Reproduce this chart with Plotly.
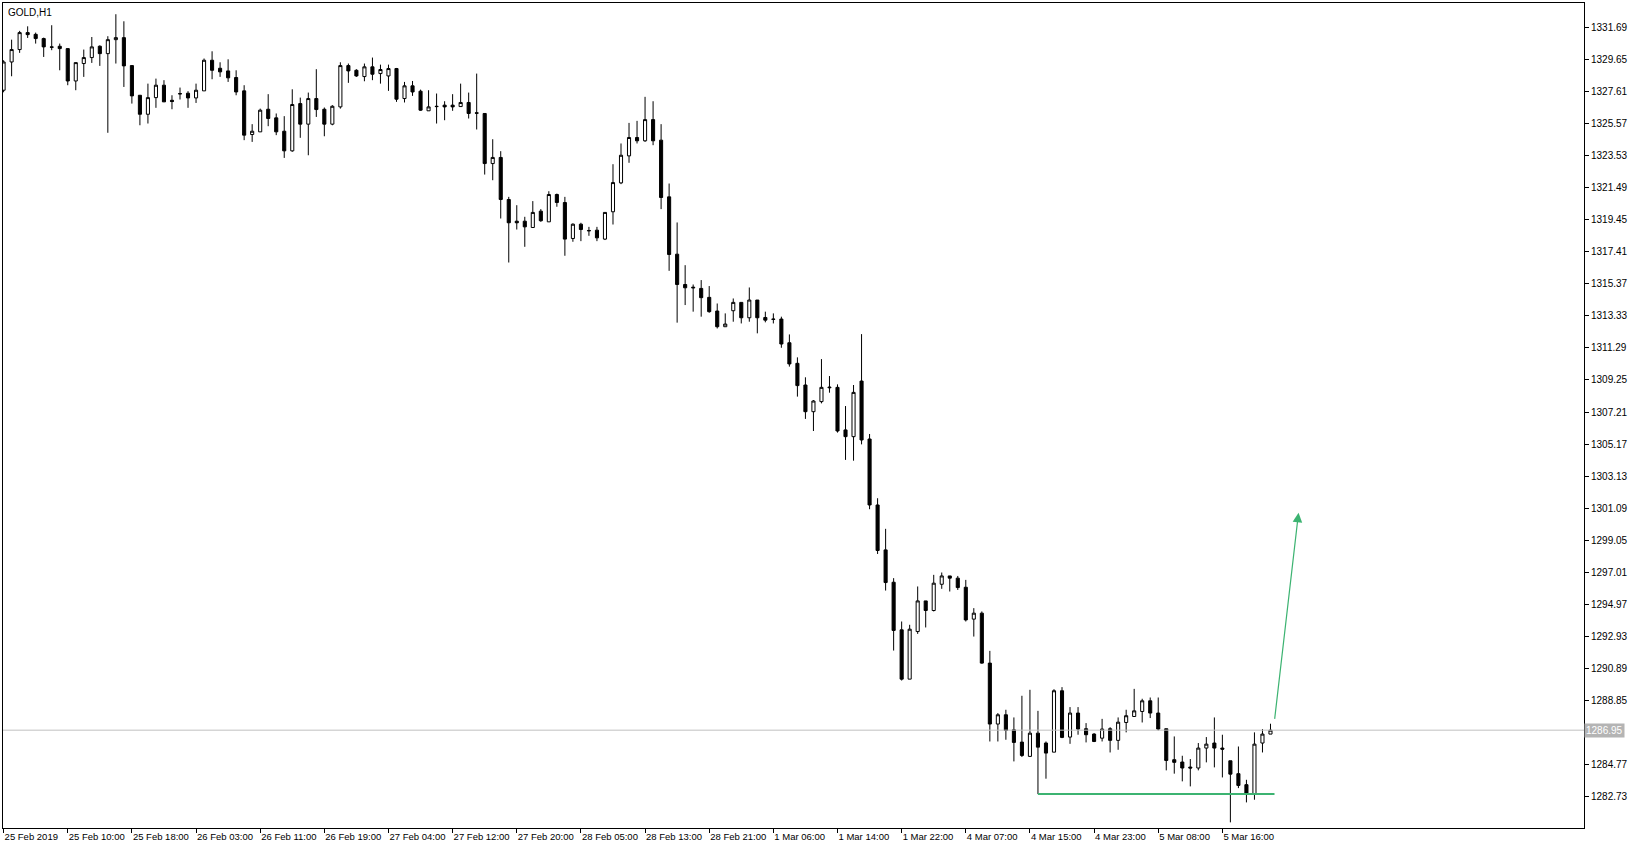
import plotly.graph_objects as go

# GOLD H1 candles (bar index 0 = 25 Feb 2019 01:00)
open_ = [
    1327.70, 1329.50, 1330.29, 1331.37, 1331.26, 1330.99, 1330.46, 1330.50, 1330.35, 1328.29,
    1329.40, 1329.78, 1330.50, 1330.03, 1330.92, 1331.05, 1329.27, 1327.38, 1326.17, 1327.23,
    1328.02, 1327.06, 1327.49, 1327.51, 1327.21, 1327.66, 1329.61, 1329.10, 1328.93, 1328.51,
    1327.66, 1324.88, 1325.05, 1326.49, 1325.94, 1325.09, 1323.84, 1326.85, 1325.54, 1327.17,
    1326.49, 1325.54, 1326.64, 1329.27, 1328.97, 1328.57, 1329.19, 1328.76, 1328.61, 1329.08,
    1327.17, 1327.98, 1327.64, 1326.39, 1326.68, 1326.75, 1326.75, 1326.66, 1326.92, 1326.26,
    1326.22, 1323.03, 1323.42, 1320.74, 1319.36, 1319.36, 1318.96, 1320.00, 1319.32, 1321.06,
    1320.55, 1318.26, 1319.17, 1318.77, 1318.79, 1318.22, 1319.96, 1321.80, 1323.52, 1324.69,
    1324.48, 1325.83, 1324.52, 1320.91, 1317.26, 1315.33, 1315.16, 1315.08, 1314.51, 1313.64,
    1312.64, 1313.66, 1314.19, 1313.21, 1314.34, 1313.23, 1313.13, 1313.13, 1311.62, 1310.31,
    1308.93, 1307.23, 1307.87, 1308.80, 1308.78, 1306.07, 1305.64, 1309.18, 1305.49, 1301.29,
    1298.43, 1296.37, 1293.34, 1290.20, 1293.23, 1295.18, 1294.57, 1296.24, 1296.77, 1296.63,
    1296.05, 1294.02, 1294.40, 1291.22, 1287.34, 1287.93, 1286.97, 1286.19, 1285.28, 1286.76,
    1286.13, 1285.55, 1289.46, 1286.51, 1288.04, 1287.04, 1286.70, 1286.44, 1287.04, 1286.30,
    1287.44, 1287.82, 1288.14, 1288.82, 1288.04, 1287.04, 1285.07, 1284.92, 1284.60, 1284.54,
    1285.81, 1286.13, 1285.81, 1285.00, 1284.18, 1283.48, 1282.90, 1286.13, 1286.70,
]
high = [
    1329.61, 1330.92, 1331.48, 1331.77, 1331.37, 1331.05, 1331.84, 1330.67, 1330.35, 1329.46,
    1330.29, 1331.09, 1330.56, 1331.14, 1332.54, 1332.09, 1329.27, 1327.38, 1328.12, 1328.44,
    1328.34, 1327.38, 1327.87, 1327.64, 1328.12, 1329.72, 1330.18, 1329.48, 1329.67, 1328.97,
    1328.02, 1325.54, 1326.53, 1327.45, 1326.22, 1326.05, 1327.76, 1327.23, 1327.55, 1329.04,
    1326.60, 1326.75, 1329.48, 1329.40, 1329.04, 1329.40, 1329.78, 1329.33, 1329.33, 1329.12,
    1328.23, 1328.29, 1327.74, 1327.70, 1327.49, 1327.00, 1327.45, 1328.12, 1327.55, 1328.76,
    1326.22, 1324.58, 1323.82, 1320.91, 1320.38, 1319.64, 1320.64, 1320.13, 1321.27, 1321.12,
    1320.91, 1319.22, 1319.26, 1319.00, 1319.00, 1319.92, 1322.99, 1324.31, 1325.62, 1325.75,
    1327.28, 1327.00, 1325.54, 1321.76, 1319.28, 1316.56, 1315.33, 1315.61, 1315.23, 1314.12,
    1313.49, 1314.44, 1314.19, 1315.14, 1314.34, 1313.60, 1313.49, 1313.28, 1312.15, 1310.69,
    1309.42, 1307.97, 1310.58, 1309.50, 1308.97, 1307.59, 1308.93, 1312.17, 1305.81, 1301.72,
    1299.77, 1296.63, 1293.87, 1293.66, 1296.10, 1295.18, 1296.84, 1296.99, 1296.77, 1296.77,
    1296.52, 1294.72, 1294.51, 1292.00, 1288.04, 1288.25, 1287.76, 1289.14, 1289.52, 1288.18,
    1286.23, 1289.56, 1289.69, 1288.42, 1288.42, 1287.40, 1286.76, 1287.67, 1287.14, 1287.76,
    1288.25, 1289.58, 1288.95, 1289.03, 1289.03, 1287.04, 1286.55, 1285.32, 1285.11, 1286.13,
    1286.51, 1287.76, 1286.66, 1285.00, 1285.91, 1283.79, 1286.81, 1287.02, 1287.36,
]
low = [
    1327.57, 1328.59, 1330.08, 1331.03, 1330.67, 1329.82, 1330.25, 1328.97, 1328.02, 1327.70,
    1328.55, 1329.44, 1329.25, 1324.99, 1329.40, 1327.91, 1326.85, 1325.47, 1325.58, 1326.58,
    1326.96, 1326.49, 1327.11, 1326.58, 1326.89, 1327.66, 1328.40, 1328.55, 1328.23, 1327.38,
    1324.52, 1324.41, 1325.05, 1325.41, 1324.84, 1323.39, 1323.78, 1324.67, 1323.56, 1326.00,
    1324.77, 1325.47, 1326.53, 1328.17, 1328.55, 1328.27, 1328.34, 1328.12, 1327.66, 1326.96,
    1326.92, 1327.34, 1326.39, 1326.39, 1325.58, 1325.79, 1326.39, 1326.66, 1325.90, 1325.20,
    1322.33, 1321.97, 1319.53, 1316.73, 1318.83, 1317.73, 1318.96, 1319.32, 1319.32, 1320.28,
    1317.16, 1318.05, 1318.09, 1318.43, 1318.09, 1318.16, 1319.15, 1321.72, 1323.08, 1324.31,
    1324.41, 1324.20, 1320.13, 1316.20, 1312.90, 1314.02, 1313.60, 1313.28, 1313.53, 1312.53,
    1312.64, 1312.96, 1312.85, 1312.96, 1312.22, 1312.92, 1312.85, 1311.30, 1310.10, 1308.19,
    1306.77, 1306.00, 1307.76, 1308.44, 1305.90, 1304.16, 1304.11, 1305.15, 1301.02, 1298.17,
    1295.84, 1292.02, 1290.11, 1290.20, 1293.08, 1293.49, 1294.51, 1295.95, 1295.78, 1295.88,
    1293.87, 1292.91, 1291.18, 1286.23, 1286.23, 1286.34, 1284.96, 1285.24, 1285.24, 1282.88,
    1283.86, 1285.55, 1286.44, 1286.08, 1286.66, 1286.17, 1286.19, 1286.23, 1285.53, 1285.70,
    1286.81, 1287.82, 1287.44, 1287.72, 1286.93, 1284.39, 1284.18, 1283.69, 1283.37, 1284.39,
    1284.90, 1284.58, 1283.94, 1281.08, 1283.26, 1282.35, 1282.52, 1285.53, 1286.70,
]
close = [
    1329.50, 1330.29, 1331.37, 1331.24, 1330.99, 1330.46, 1330.44, 1330.35, 1328.29, 1329.46,
    1329.78, 1330.46, 1330.03, 1330.92, 1331.05, 1329.25, 1327.34, 1326.17, 1327.23, 1328.02,
    1326.96, 1326.98, 1327.47, 1327.21, 1327.70, 1329.61, 1328.97, 1328.87, 1328.49, 1327.59,
    1324.84, 1325.09, 1326.43, 1325.90, 1325.05, 1323.84, 1326.79, 1325.54, 1327.17, 1326.47,
    1325.54, 1326.68, 1329.27, 1328.93, 1328.61, 1329.19, 1328.72, 1329.02, 1329.08, 1327.13,
    1327.98, 1327.59, 1326.43, 1326.64, 1326.66, 1326.64, 1326.64, 1326.92, 1326.22, 1326.24,
    1323.03, 1323.42, 1320.74, 1319.26, 1319.26, 1319.00, 1319.92, 1319.39, 1321.06, 1320.55,
    1318.22, 1319.17, 1318.83, 1318.75, 1318.30, 1319.92, 1321.82, 1323.56, 1324.69, 1324.48,
    1325.83, 1324.48, 1320.87, 1317.24, 1315.33, 1315.12, 1315.12, 1314.49, 1313.60, 1312.64,
    1312.81, 1314.19, 1313.21, 1314.34, 1313.21, 1313.06, 1313.11, 1311.54, 1310.27, 1308.89,
    1307.23, 1307.91, 1308.78, 1308.76, 1306.00, 1305.64, 1308.46, 1305.43, 1301.29, 1298.39,
    1296.35, 1293.30, 1290.20, 1293.38, 1295.18, 1294.57, 1296.31, 1296.77, 1296.63, 1296.03,
    1293.97, 1294.40, 1291.22, 1287.34, 1287.93, 1286.93, 1286.17, 1285.34, 1286.76, 1285.87,
    1285.49, 1289.46, 1286.49, 1288.04, 1287.02, 1286.66, 1286.23, 1287.02, 1286.30, 1287.46,
    1287.87, 1288.18, 1288.82, 1288.04, 1287.02, 1285.02, 1284.90, 1284.54, 1284.54, 1285.81,
    1286.06, 1285.81, 1285.74, 1284.15, 1283.43, 1282.90, 1286.06, 1286.70, 1286.95,
]

# time axis labels, one every 8 bars
tick_labels = [
    "25 Feb 2019", "25 Feb 10:00", "25 Feb 18:00", "26 Feb 03:00", "26 Feb 11:00",
    "26 Feb 19:00", "27 Feb 04:00", "27 Feb 12:00", "27 Feb 20:00", "28 Feb 05:00",
    "28 Feb 13:00", "28 Feb 21:00", "1 Mar 06:00", "1 Mar 14:00", "1 Mar 22:00",
    "4 Mar 07:00", "4 Mar 15:00", "4 Mar 23:00", "5 Mar 08:00", "5 Mar 16:00",
]
price_ticks = [1282.73 + 2.04 * k for k in range(25)]

# drawn objects: support line and projected move
support_x = [129, 158.5]
support_y = [1282.88, 1282.88]
arrow_x = [158.5, 161.5]
arrow_y = [1287.57, 1300.80]

GREEN = "#3cb371"
FONT = "Liberation Sans"

bars = list(range(len(close)))

fig = go.Figure()

fig.add_trace(go.Candlestick(
    x=bars, open=open_, high=high, low=low, close=close,
    increasing=dict(line=dict(color="black", width=1), fillcolor="white"),
    decreasing=dict(line=dict(color="black", width=1), fillcolor="black"),
    whiskerwidth=0, showlegend=False, hoverinfo="skip",
))

fig.add_trace(go.Scatter(
    x=support_x, y=support_y, mode="lines",
    line=dict(color=GREEN, width=2), showlegend=False, hoverinfo="skip",
))

# last price line
fig.add_hline(y=close[-1], line=dict(color="#c0c0c0", width=1))

fig.add_annotation(
    x=arrow_x[1], y=arrow_y[1], ax=arrow_x[0], ay=arrow_y[0],
    xref="x", yref="y", axref="x", ayref="y", text="",
    showarrow=True, arrowhead=2, arrowsize=1.6, arrowwidth=1.2,
    arrowcolor=GREEN, standoff=0,
)

# last price tag on the price scale (covers the tick label under it)
fig.add_annotation(
    x=1, xref="paper", xanchor="left", y=close[-1], yref="y",
    text=f"{close[-1]:.2f}", showarrow=False,
    font=dict(family=FONT, size=10, color="white"),
    bgcolor="#b4b4b4", borderpad=1,
)

fig.add_annotation(
    x=0, y=1, xref="paper", yref="paper", xanchor="left", yanchor="top",
    xshift=3, yshift=-2, text="GOLD,H1", showarrow=False,
    font=dict(family=FONT, size=10, color="black"),
)

price_text = []
for v in price_ticks:
    price_text.append("" if abs(v - close[-1]) < 0.5 else f"{v:.2f}")

fig.update_layout(
    width=1637, height=849,
    margin=dict(l=3, r=53, t=3, b=21),
    paper_bgcolor="white", plot_bgcolor="white",
    boxgap=0.45,
    font=dict(family=FONT, size=10, color="black"),
    xaxis=dict(
        range=[-0.075, 197.1], rangeslider=dict(visible=False),
        tickmode="array", tickvals=bars[::8], ticktext=tick_labels,
        ticks="outside", ticklen=4, tickcolor="black", tickangle=0,
        ticklabelposition="outside right", tickfont=dict(size=9.5),
        showgrid=False, zeroline=False,
        showline=True, linecolor="black", linewidth=1, mirror=True,
    ),
    yaxis=dict(
        range=[1280.72, 1333.255], side="right",
        tickmode="array", tickvals=price_ticks, ticktext=price_text,
        ticks="outside", ticklen=4, tickcolor="black",
        showgrid=False, zeroline=False,
        showline=True, linecolor="black", linewidth=1, mirror=True,
    ),
)

# page body has a default 8px margin; drop it so the chart fills the window
fig.write_html(
    "out.html",
    config={"displayModeBar": False},
    post_script="document.body.style.margin = '0';",
)
